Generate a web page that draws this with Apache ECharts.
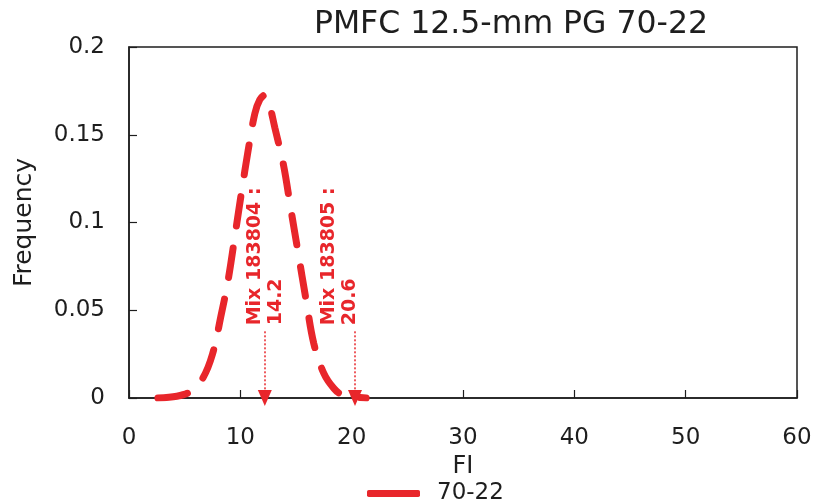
<!DOCTYPE html>
<html>
<head>
<meta charset="utf-8">
<script src="https://cdn.jsdelivr.net/npm/echarts@6/dist/echarts.min.js"></script>
<style>
html,body{margin:0;padding:0;background:#fff;}
#chart{width:818px;height:504px;}
</style>
</head>
<body>
<div id="chart"></div>
<script>
// ---- data ----
const titleText = 'PMFC 12.5-mm PG 70-22';
const seriesName = '70-22';
const fiValues  = [2.6, 4.3, 5.5, 6.6, 7.5, 8.3, 8.9, 9.6, 10.1, 10.7, 11.3, 11.75, 12.2, 12.5, 13.1, 13.9, 14.5, 15.2, 15.9, 16.6, 17.5, 18.4, 19.2, 21.3];
const frequency = [0, 0.001, 0.0036, 0.011, 0.025, 0.048, 0.067, 0.096, 0.117, 0.141, 0.162, 0.170, 0.1726, 0.170, 0.154, 0.132, 0.109, 0.0825, 0.056, 0.031, 0.014, 0.0055, 0.0017, 0];
const markerFI = [12.2, 20.3];
const markerMix = ['Mix 183804 :', 'Mix 183805 :'];
const markerValue = ['14.2', '20.6'];
const arrowTop = 0.038;
const xTicks = [0, 10, 20, 30, 40, 50, 60];
const yTicks = [0, 0.05, 0.1, 0.15, 0.2];

const RED = '#e8262b';
const INK = '#1e1e1e';
const FONT = 'DejaVu Sans';
const labelShift = [[6, 1], [6, -15]];

const chart = echarts.init(document.getElementById('chart'));
const lineData = fiValues.map((x, i) => [x, frequency[i]]);

chart.setOption({
  animation: false,
  backgroundColor: '#fff',
  textStyle: { fontFamily: FONT },
  title: {
    text: titleText, left: 506, top: 4, textAlign: 'center',
    textStyle: { fontFamily: FONT, fontSize: 31.5, fontWeight: 'normal', color: INK }
  },
  grid: { left: 129, right: 21, top: 47, bottom: 106, show: true, borderColor: INK, borderWidth: 1.5 },
  legend: {
    data: [seriesName], left: 362, top: 477, icon: 'roundRect', itemWidth: 53, itemHeight: 7,
    textStyle: { fontFamily: FONT, fontSize: 23, color: INK, padding: [0, 0, 0, 12] }
  },
  xAxis: {
    type: 'value', min: xTicks[0], max: xTicks[xTicks.length - 1], interval: 10,
    name: 'FI', nameLocation: 'middle', nameGap: 53,
    nameTextStyle: { fontFamily: FONT, fontSize: 24, color: INK },
    axisLine: { lineStyle: { color: INK, width: 1.5 } },
    axisTick: { inside: true, length: 8, lineStyle: { color: INK, width: 1.2 } },
    axisLabel: { fontFamily: FONT, fontSize: 23, color: INK, margin: 29 },
    splitLine: { show: false }
  },
  yAxis: {
    type: 'value', min: yTicks[0], max: yTicks[yTicks.length - 1], interval: 0.05,
    name: 'Frequency', nameLocation: 'middle', nameGap: 92, nameRotate: 90,
    nameTextStyle: { fontFamily: FONT, fontSize: 25, color: INK },
    axisLine: { show: true, lineStyle: { color: INK, width: 1.5 } },
    axisTick: { show: true, inside: true, length: 8, lineStyle: { color: INK, width: 1.2 } },
    axisLabel: { fontFamily: FONT, fontSize: 23, color: INK, margin: 24 },
    splitLine: { show: false }
  },
  series: [
    {
      name: seriesName, type: 'line', data: lineData, smooth: 0.35,
      showSymbol: false, color: RED,
      lineStyle: { color: RED, width: 7, type: [30, 22], cap: 'round' },
      markLine: {
        silent: true, symbol: ['none', 'triangle'], symbolSize: [14, 16],
        label: { show: false },
        lineStyle: { color: RED, width: 1.5, type: [2, 2] },
        data: markerFI.map(x => [{ coord: [x, arrowTop] }, { coord: [x, 0] }])
      }
    },
    {
      name: 'markers', type: 'scatter', symbolSize: 0, silent: true,
      itemStyle: { color: 'rgba(0,0,0,0)', opacity: 1 },
      data: markerFI.map((x, i) => ({
        value: [x, arrowTop],
        label: {
          show: true, position: 'inside', rotate: 90, align: 'left', verticalAlign: 'middle',
          offset: labelShift[i],
          formatter: markerMix[i] + '\n' + markerValue[i],
          fontFamily: FONT, fontWeight: 'bold', fontSize: 19, lineHeight: 21, color: RED, opacity: 1
        }
      }))
    }
  ]
});
</script>
</body>
</html>
